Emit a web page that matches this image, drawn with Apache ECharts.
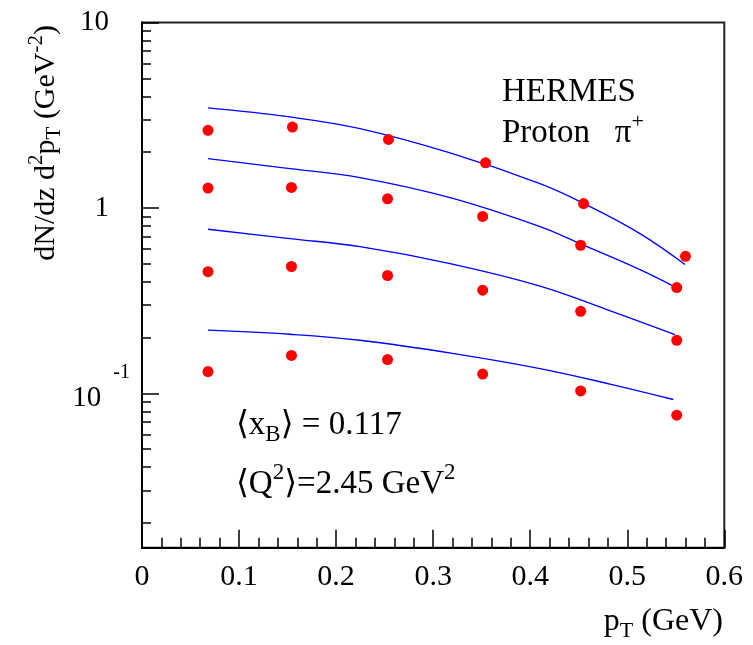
<!DOCTYPE html>
<html>
<head>
<meta charset="utf-8">
<script src="https://cdn.jsdelivr.net/npm/echarts@6/dist/echarts.min.js"></script>
<style>
  html, body { margin: 0; padding: 0; background: #fff; }
  #main { width: 753px; height: 645px; }
</style>
</head>
<body>
<div id="main"></div>
<script>
// HERMES proton pi+ : dN/dz d2pT vs pT, four z bins
var ptX1 = [0.068, 0.155, 0.254, 0.354, 0.455, 0.560];
var ptX = [0.068, 0.154, 0.253, 0.351, 0.452, 0.551];
var pts1 = [2.62, 2.73, 2.34, 1.75, 1.055, 0.548];
var pts2 = [1.28, 1.29, 1.12, 0.90, 0.629, 0.372];
var pts3 = [0.453, 0.483, 0.432, 0.360, 0.277, 0.193];
var pts4 = [0.131, 0.160, 0.152, 0.127, 0.103, 0.0762];

// theory curves
var curveX1 = [0.068, 0.1525, 0.2246, 0.3174, 0.4101, 0.4554, 0.5131, 0.5595];
var curve1 = [3.46, 3.094, 2.676, 1.979, 1.352, 1.055, 0.727, 0.495];
var curveX2 = [0.068, 0.1525, 0.2246, 0.3174, 0.4101, 0.4513, 0.5131, 0.5526];
var curve2 = [1.845, 1.629, 1.457, 1.136, 0.793, 0.642, 0.465, 0.367];
var curveX3 = [0.068, 0.1525, 0.2246, 0.3174, 0.4101, 0.479, 0.5492];
var curve3 = [0.767, 0.683, 0.618, 0.501, 0.379, 0.283, 0.2075];
var curveX4 = [0.068, 0.1525, 0.2246, 0.3277, 0.4101, 0.4822, 0.5474];
var curve4 = [0.219, 0.2083, 0.1933, 0.1619, 0.136, 0.1122, 0.0926];

var yMajor = [0.1, 1, 10];
var yMinor = [0.02, 0.03, 0.04, 0.05, 0.06, 0.07, 0.08, 0.09,
  0.2, 0.3, 0.4, 0.5, 0.6, 0.7, 0.8, 0.9,
  2, 3, 4, 5, 6, 7, 8, 9];
var yMin = 0.0147, yMax = 10;

var FONT = '"Liberation Serif", "DejaVu Serif", serif';

function zip(xs, ys) {
  return xs.map(function (x, i) { return [x, ys[i]]; });
}

function dots(xs, ys) {
  return {
    type: 'scatter',
    symbol: 'circle',
    symbolSize: 11,
    itemStyle: { color: '#ff0000', opacity: 1 },
    data: zip(xs, ys),
    z: 3
  };
}

function curve(xs, ys) {
  return {
    type: 'line',
    smooth: 0.4,
    showSymbol: false,
    lineStyle: { color: '#0000ff', width: 1.3 },
    data: zip(xs, ys),
    z: 2
  };
}

var chart = echarts.init(document.getElementById('main'));
var option = {
  animation: false,
  backgroundColor: '#fff',
  grid: {
    left: 142, top: 22.5, right: 28.7, bottom: 97.3,
    show: true, borderColor: '#222', borderWidth: 2,
    backgroundColor: 'transparent'
  },
  xAxis: {
    type: 'value',
    min: 0, max: 0.6, interval: 0.1,
    axisLine: { lineStyle: { color: '#000', width: 2 } },
    axisTick: { inside: true, length: 18, lineStyle: { color: '#000', width: 1.5 } },
    minorTick: { show: true, splitNumber: 5, length: 10, lineStyle: { color: '#000', width: 1.5 } },
    splitLine: { show: false },
    axisLabel: {
      color: '#000', fontFamily: FONT, fontSize: 30, margin: 14,
      formatter: function (v) { return v === 0 ? '0' : v.toFixed(1); }
    }
  },
  yAxis: [
    {
      type: 'log', position: 'left', min: yMin, max: yMax,
      axisLine: { show: true, lineStyle: { color: '#000', width: 2 } },
      axisTick: { show: true, inside: true, length: 9, customValues: yMinor,
        lineStyle: { color: '#000', width: 1.5 } },
      axisLabel: { show: false },
      splitLine: { show: false }
    },
    {
      type: 'log', position: 'left', min: yMin, max: yMax, offset: 0,
      axisLine: { show: false },
      axisTick: { show: true, inside: true, length: 17, customValues: yMajor,
        lineStyle: { color: '#000', width: 1.5 } },
      splitLine: { show: false },
      axisLabel: {
        customValues: yMajor,
        margin: 12,
        color: '#000',
        fontFamily: FONT,
        fontSize: 29,
        formatter: function (v) {
          if (Math.abs(v - 0.1) < 1e-6) return '{m|10}{sup|-1}';
          if (Math.abs(v - 1) < 1e-6) return '{n|1}';
          return '{n|10}';
        },
        rich: {
          n: { fontFamily: FONT, fontSize: 29, color: '#000', padding: [0, 21, 0, 0] },
          m: { fontFamily: FONT, fontSize: 29, color: '#000', padding: [0, 0, 11, 0], verticalAlign: 'bottom' },
          sup: { fontFamily: FONT, fontSize: 20, color: '#000', padding: [0, 0, 42, 12], verticalAlign: 'bottom' }
        }
      }
    }
  ],
  graphic: [
    {
      type: 'text', x: 46, y: 25, rotation: Math.PI / 2,
      style: {
        text: 'dN/dz d{sup|2}p{sub|T} (GeV{sup|-2})',
        font: '30px ' + FONT, fill: '#000',
        align: 'right', verticalAlign: 'middle',
        rich: {
          sup: { fontFamily: FONT, fontSize: 21, fill: '#000', padding: [0, 0, 20, 0], verticalAlign: 'bottom' },
          sub: { fontFamily: FONT, fontSize: 21, fill: '#000', padding: [18, 0, 0, 0], verticalAlign: 'top' }
        }
      }
    },
    {
      type: 'text', x: 723, y: 622,
      style: {
        text: 'p{sub|T} (GeV)',
        font: '32px ' + FONT, fill: '#000',
        align: 'right', verticalAlign: 'middle',
        rich: {
          sub: { fontFamily: FONT, fontSize: 22, fill: '#000', padding: [18, 0, 0, 0], verticalAlign: 'top' }
        }
      }
    },
    {
      type: 'text', x: 502, y: 92,
      style: { text: 'HERMES', font: '33px ' + FONT, fill: '#000', align: 'left', verticalAlign: 'middle' }
    },
    {
      type: 'text', x: 502, y: 133,
      style: {
        text: 'Proton   π{sup|+}',
        font: '33px ' + FONT, fill: '#000', align: 'left', verticalAlign: 'middle',
        rich: {
          sup: { fontFamily: FONT, fontSize: 22, fill: '#000', padding: [0, 0, 22, 0], verticalAlign: 'bottom' }
        }
      }
    },
    {
      type: 'text', x: 236, y: 425,
      style: {
        text: '⟨x{sub|B}⟩ = 0.117',
        font: '33px ' + FONT, fill: '#000', align: 'left', verticalAlign: 'middle',
        rich: {
          sub: { fontFamily: FONT, fontSize: 23, fill: '#000', padding: [20, 0, 0, 0], verticalAlign: 'top' }
        }
      }
    },
    {
      type: 'text', x: 236, y: 484,
      style: {
        text: '⟨Q{sup|2}⟩=2.45 GeV{sup|2}',
        font: '33px ' + FONT, fill: '#000', align: 'left', verticalAlign: 'middle',
        rich: {
          sup: { fontFamily: FONT, fontSize: 23, fill: '#000', padding: [0, 0, 22, 0], verticalAlign: 'bottom' }
        }
      }
    }
  ],
  series: [
    curve(curveX1, curve1),
    curve(curveX2, curve2),
    curve(curveX3, curve3),
    curve(curveX4, curve4),
    dots(ptX1, pts1),
    dots(ptX, pts2),
    dots(ptX, pts3),
    dots(ptX, pts4)
  ]
};
chart.setOption(option);
</script>
</body>
</html>
